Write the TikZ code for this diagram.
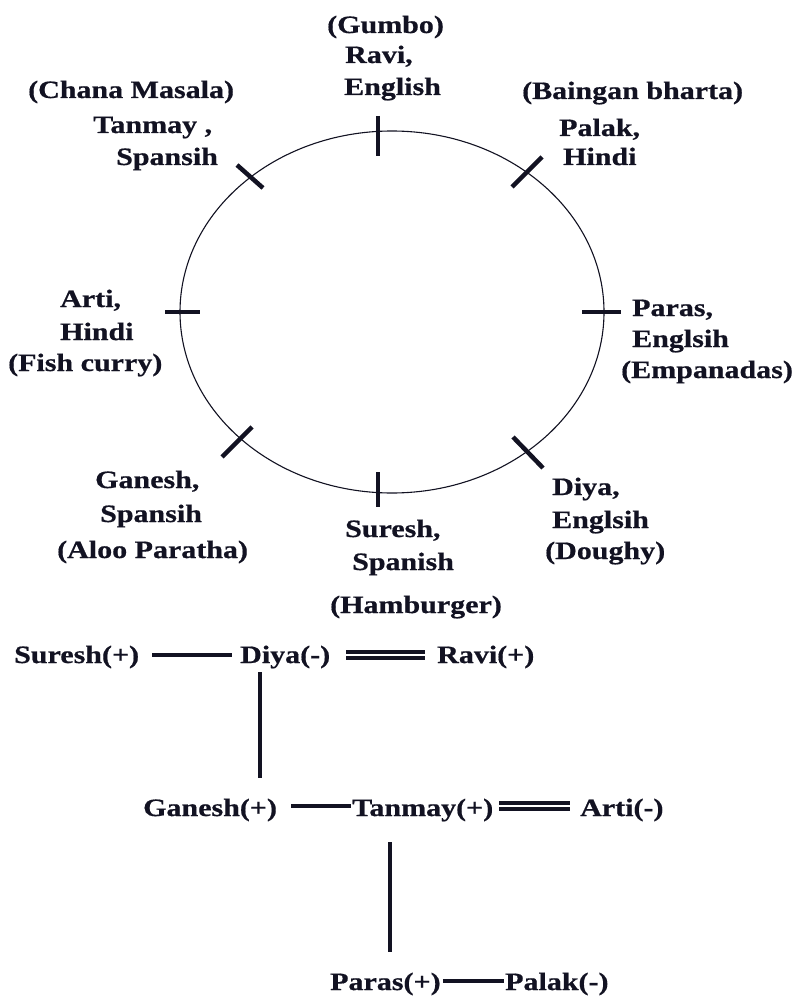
\documentclass[tikz,border=0pt]{standalone}
\usepackage{fontspec}
\setmainfont{Liberation Serif}[FakeStretch=1.2, FakeBold=0.6]
\usetikzlibrary{calc}
\definecolor{ink}{RGB}{18,18,34}
\begin{document}
\begin{tikzpicture}[x=1pt,y=-1pt,
  lbl/.style={anchor=base west, inner sep=0pt, text=ink,
              font=\fontsize{25}{29}\selectfont\bfseries},
  tick/.style={line width=4.5pt, draw=ink},
  conn/.style={line width=4.5pt, draw=ink},
  dbl/.style={line width=4pt, draw=ink}]
\useasboundingbox[fill=white] (0,0) rectangle (796,1000);

% seating circle
\draw[line width=1.1pt, draw=ink] (392,312) ellipse [x radius=212, y radius=181];

% seat marks
\draw[tick] (378,116) -- (378,156);
\draw[tick] (237,165) -- (263,188);
\draw[tick] (512,187) -- (542,157);
\draw[tick] (165,312) -- (200,312);
\draw[tick] (582,312) -- (621,312);
\draw[tick] (222,457) -- (252,427);
\draw[tick] (378,472) -- (378,507);
\draw[tick] (513,437) -- (543,468);

% seat labels
\node[lbl] (t1) at (327,33) {(Gumbo)};
\node[lbl] (t2) at (345,63) {Ravi,};
\node[lbl] (t3) at (344,95) {English};

\node[lbl] (tl1) at (28,98) {(Chana Masala)};
\node[lbl] (tl2) at (93,133) {Tanmay ,};
\node[lbl] (tl3) at (116,165) {Spansih};

\node[lbl] (tr1) at (522,99) {(Baingan bharta)};
\node[lbl] (tr2) at (559,136) {Palak,};
\node[lbl] (tr3) at (563,165) {Hindi};

\node[lbl] (l1) at (60,307) {Arti,};
\node[lbl] (l2) at (60,340) {Hindi};
\node[lbl] (l3) at (8,371) {(Fish curry)};

\node[lbl] (r1) at (632,316) {Paras,};
\node[lbl] (r2) at (632,347) {Englsih};
\node[lbl] (r3) at (621,378) {(Empanadas)};

\node[lbl] (bl1) at (95,488) {Ganesh,};
\node[lbl] (bl2) at (100,522) {Spansih};
\node[lbl] (bl3) at (57,558) {(Aloo Paratha)};

\node[lbl] (b1) at (345,537) {Suresh,};
\node[lbl] (b2) at (352,570) {Spanish};
\node[lbl] (b3) at (330,613) {(Hamburger)};

\node[lbl] (br1) at (552,495) {Diya,};
\node[lbl] (br2) at (552,528) {Englsih};
\node[lbl] (br3) at (545,559) {(Doughy)};

% relation chart
\node[lbl] (sur) at (14,663) {Suresh(+)};
\node[lbl] (diy) at (240,663) {Diya(-)};
\node[lbl] (rav) at (437,663) {Ravi(+)};
\node[lbl] (gan) at (143,816) {Ganesh(+)};
\node[lbl] (tan) at (352,816) {Tanmay(+)};
\node[lbl] (art) at (580,816) {Arti(-)};
\node[lbl] (par) at (330,990) {Paras(+)};
\node[lbl] (pal) at (505,990) {Palak(-)};

\draw[conn] ([xshift=13pt,yshift=8pt]sur.base east) -- ([xshift=-8pt,yshift=8pt]diy.base west);
\draw[dbl] ([xshift=16pt,yshift=11pt]diy.base east) -- ([xshift=-12pt,yshift=11pt]rav.base west);
\draw[dbl] ([xshift=16pt,yshift=5pt]diy.base east) -- ([xshift=-12pt,yshift=5pt]rav.base west);
\draw[conn] ($(diy.base west)+(20,9)$) -- ($(gan.base west)+(117,-38)$);

\draw[conn] ([xshift=14pt,yshift=10pt]gan.base east) -- ([xshift=-1pt,yshift=10pt]tan.base west);
\draw[dbl] ([xshift=6pt,yshift=13pt]tan.base east) -- ([xshift=-10pt,yshift=13pt]art.base west);
\draw[dbl] ([xshift=6pt,yshift=7pt]tan.base east) -- ([xshift=-10pt,yshift=7pt]art.base west);
\draw[conn] ($(tan.base west)+(38,26)$) -- ($(par.base west)+(60,-38)$);

\draw[conn] ([xshift=2pt,yshift=9pt]par.base east) -- ([xshift=-1pt,yshift=9pt]pal.base west);
\end{tikzpicture}
\end{document}
